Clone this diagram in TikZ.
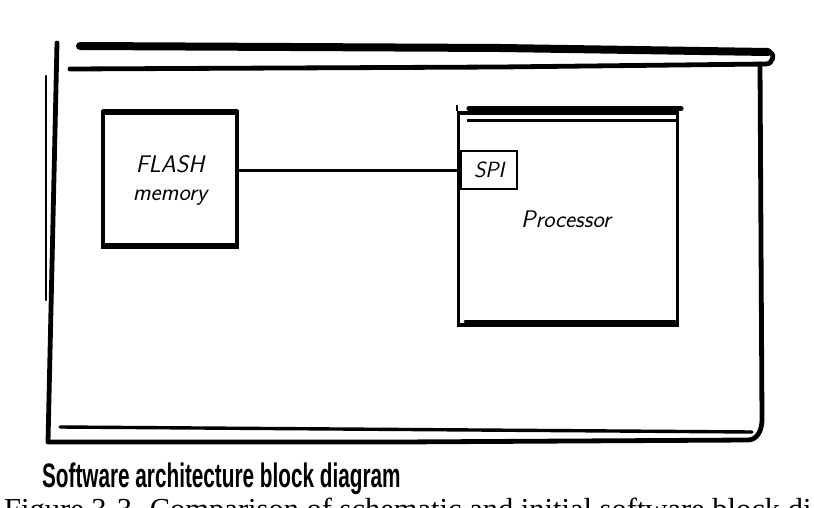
\documentclass[tikz,border=0pt]{standalone}
\usepackage{fontspec}
\setmainfont{Liberation Serif}
\newfontfamily\capfont{Liberation Sans}
\usetikzlibrary{positioning,calc}
\newcommand{\hand}{\sffamily\itshape}

\begin{document}
\begin{tikzpicture}[
  x=1pt, y=-1pt,
  blk/.style={draw, line width=3.2pt, fill=white, inner sep=0pt, align=center, font=\hand\fontsize{24}{30}\selectfont},
  lid/.style={line width=5pt, line cap=round},
  rim/.style={line width=2.6pt, line cap=round},
  frame/.style={line width=4.8pt, line cap=round, line join=round},
  wire/.style={line width=3pt},
]
\useasboundingbox (0,0) rectangle (814,508);
\clip (0,0) rectangle (814,508);
% board outline
\draw[line width=8pt, line cap=round] (80,46) -- (500,48) -- (768,52);
\draw[frame] (70,69) -- (500,67) -- (766,64) to[out=0,in=0,looseness=1.6] (768,52);
\draw[frame] (760,64) -- (762,420) to[out=270,in=0] (748,440) -- (400,442) -- (48,442) -- (57,43);
\draw[rim] (46,76) -- (46,300);
\draw[line width=3.4pt, line cap=round] (60,427) -- (752,432);
% blocks
\node[blk, minimum width=134pt, minimum height=134pt] (flash) at (170,180) {FLASH\\[-2pt]memory};
\node[blk, minimum width=219pt, minimum height=212pt] (cpu) at (568,219) {};
\node[font=\hand\fontsize{24}{30}\selectfont] (cpulabel) at (566,219) {Processor};
\node[draw, line width=2.4pt, fill=white, anchor=north west, minimum width=56pt, minimum height=38pt,
      font=\hand\fontsize{22}{26}\selectfont] (spi) at (460,150) {SPI};
\draw[lid] ($(flash.north west)+(2,0)$) -- ($(flash.north east)+(-2,0)$);
\draw[rim] ($(flash.south west)+(4,-4)$) -- ($(flash.south east)+(-4,-4)$);
\draw[lid] ($(cpu.north west)+(12,-3)$) -- ($(cpu.north east)+(2,-3)$);
\draw[line width=3.6pt] ($(cpu.north west)+(10,9)$) -- ($(cpu.north east)+(0,9)$);
\draw[rim] ($(cpu.south west)+(8,-5)$) -- ($(cpu.south east)+(-4,-5)$);
\draw[line width=2.6pt] ($(cpu.north west)+(0,-6)$) -- (cpu.north west);
% link
\draw[wire] (flash.east |- spi.west) -- (spi.west);
% captions
\node[anchor=base west, inner sep=0pt, xscale=0.61, font=\capfont\bfseries\fontsize{34}{38}\selectfont] (cap) at (42,487) {Software architecture block diagram};
\node[anchor=base west, inner sep=0pt, font=\fontsize{30.5}{33}\selectfont] (fig) at (4,519) {Figure 3-3. Comparison of schematic and initial software block diagrams};
\end{tikzpicture}
\end{document}
